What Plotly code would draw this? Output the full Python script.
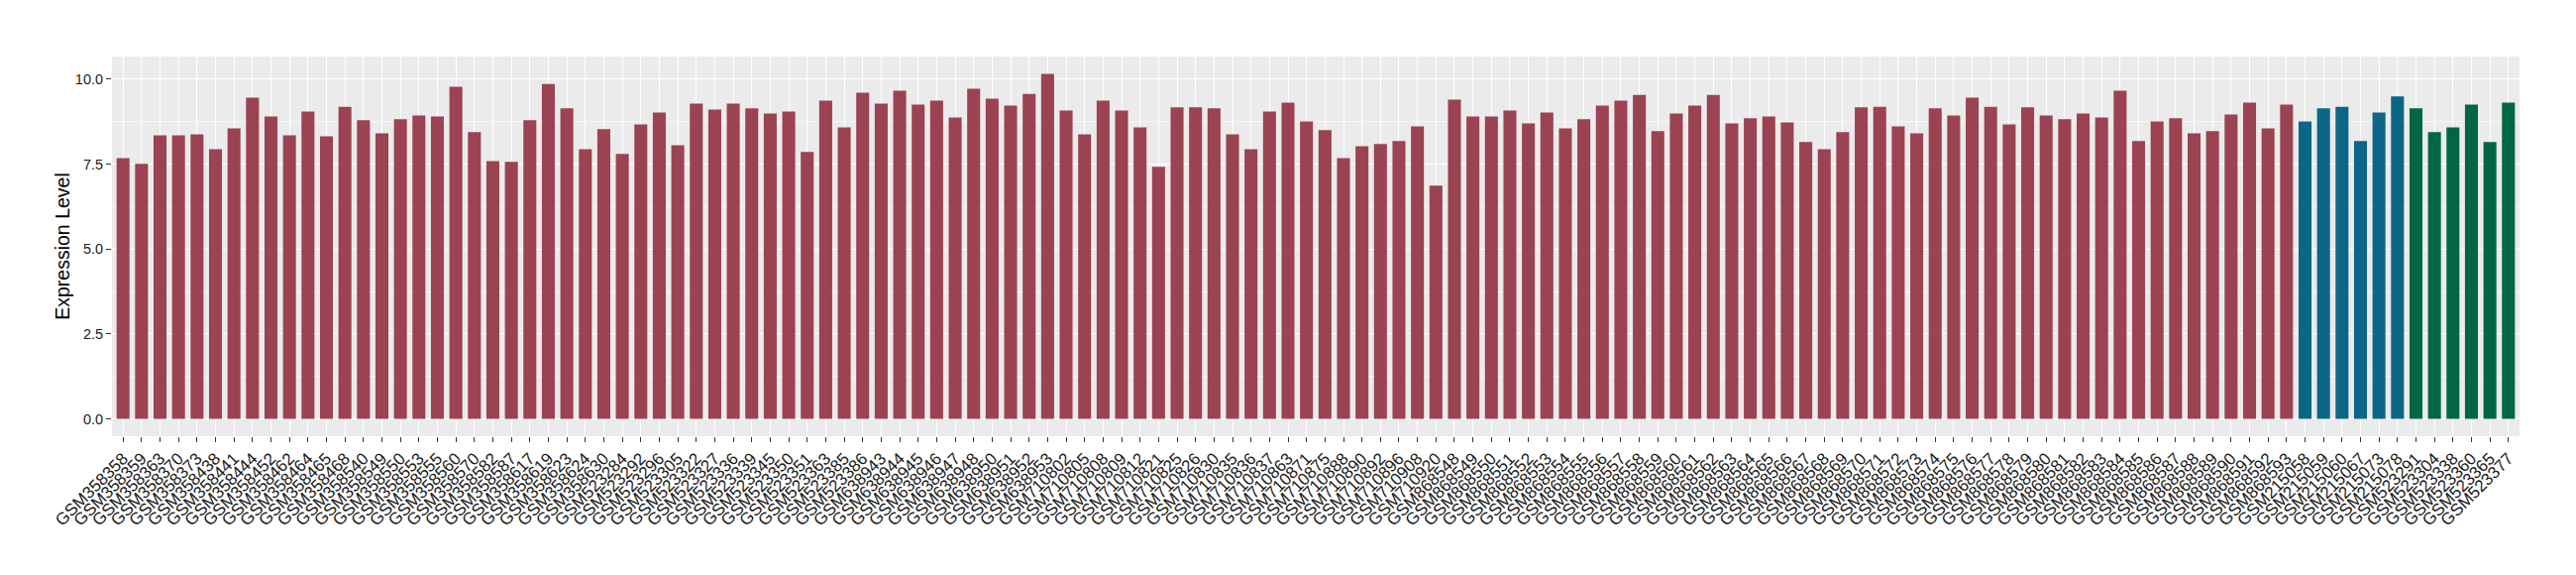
import plotly.graph_objects as go

# sample ids and expression values, by group (order as plotted)
red_samples = [
    "GSM358358", "GSM358359", "GSM358363", "GSM358370", "GSM358373", "GSM358438",
    "GSM358441", "GSM358444", "GSM358452", "GSM358462", "GSM358464", "GSM358465",
    "GSM358468", "GSM358540", "GSM358549", "GSM358550", "GSM358553", "GSM358555",
    "GSM358560", "GSM358570", "GSM358582", "GSM358587", "GSM358617", "GSM358619",
    "GSM358623", "GSM358624", "GSM358630", "GSM523284", "GSM523292", "GSM523296",
    "GSM523305", "GSM523322", "GSM523327", "GSM523336", "GSM523339", "GSM523345",
    "GSM523350", "GSM523351", "GSM523363", "GSM523385", "GSM523386", "GSM638943",
    "GSM638944", "GSM638945", "GSM638946", "GSM638947", "GSM638948", "GSM638950",
    "GSM638951", "GSM638952", "GSM638953", "GSM710802", "GSM710805", "GSM710808",
    "GSM710809", "GSM710812", "GSM710821", "GSM710825", "GSM710826", "GSM710830",
    "GSM710835", "GSM710836", "GSM710837", "GSM710863", "GSM710871", "GSM710875",
    "GSM710888", "GSM710890", "GSM710892", "GSM710896", "GSM710908", "GSM710920",
    "GSM868548", "GSM868549", "GSM868550", "GSM868551", "GSM868552", "GSM868553",
    "GSM868554", "GSM868555", "GSM868556", "GSM868557", "GSM868558", "GSM868559",
    "GSM868560", "GSM868561", "GSM868562", "GSM868563", "GSM868564", "GSM868565",
    "GSM868566", "GSM868567", "GSM868568", "GSM868569", "GSM868570", "GSM868571",
    "GSM868572", "GSM868573", "GSM868574", "GSM868575", "GSM868576", "GSM868577",
    "GSM868578", "GSM868579", "GSM868580", "GSM868581", "GSM868582", "GSM868583",
    "GSM868584", "GSM868585", "GSM868586", "GSM868587", "GSM868588", "GSM868589",
    "GSM868590", "GSM868591", "GSM868592", "GSM868593",
]
red_values = [
    7.68, 7.51, 8.35, 8.35, 8.38, 7.94, 8.55, 9.46, 8.90, 8.35, 9.05, 8.32,
    9.19, 8.79, 8.41, 8.82, 8.93, 8.90, 9.78, 8.44, 7.59, 7.57, 8.79, 9.86,
    9.14, 7.94, 8.53, 7.80, 8.67, 9.02, 8.06, 9.28, 9.11, 9.28, 9.14, 8.99,
    9.05, 7.86, 9.37, 8.58, 9.60, 9.28, 9.66, 9.25, 9.37, 8.87, 9.72, 9.43,
    9.22, 9.57, 10.16, 9.08, 8.38, 9.37, 9.08, 8.58, 7.42, 9.17, 9.17, 9.14,
    8.38, 7.94, 9.05, 9.31, 8.76, 8.50, 7.68, 8.03, 8.09, 8.18, 8.61, 6.87,
    9.40, 8.90, 8.90, 9.08, 8.70, 9.02, 8.55, 8.82, 9.22, 9.37, 9.54, 8.47,
    8.99, 9.22, 9.54, 8.70, 8.85, 8.90, 8.73, 8.15, 7.94, 8.44, 9.17, 9.19,
    8.61, 8.41, 9.14, 8.93, 9.46, 9.19, 8.67, 9.17, 8.93, 8.82, 8.99, 8.87,
    9.66, 8.18, 8.76, 8.85, 8.41, 8.47, 8.96, 9.31, 8.55, 9.25,
]

blue_samples = ["GSM215058", "GSM215059", "GSM215060", "GSM215067", "GSM215073", "GSM215078"]
blue_values = [8.76, 9.14, 9.19, 8.18, 9.02, 9.49]

green_samples = ["GSM523291", "GSM523304", "GSM523338", "GSM523360", "GSM523365", "GSM523377"]
green_values = [9.14, 8.44, 8.58, 9.25, 8.15, 9.31]

all_samples = red_samples + blue_samples + green_samples

fig = go.Figure()
for xs, ys, col in [
    (red_samples, red_values, "#9B4352"),
    (blue_samples, blue_values, "#0B6687"),
    (green_samples, green_values, "#006644"),
]:
    fig.add_trace(go.Bar(x=xs, y=ys, marker_color=col, marker_line_width=0, showlegend=False))

font_family = "Liberation Sans, Arial, Helvetica, sans-serif"

fig.update_layout(
    width=2600,
    height=580,
    barmode="overlay",
    bargap=0.3,
    paper_bgcolor="white",
    plot_bgcolor="#EBEBEB",
    margin=dict(l=113, r=57, t=57, b=140, autoexpand=False),
    font=dict(family=font_family, color="#1A1A1A"),
    xaxis=dict(
        type="category",
        categoryorder="array",
        categoryarray=all_samples,
        range=[-0.6, len(all_samples) - 0.4],
        tickmode="linear",
        tick0=0,
        dtick=1,
        tickangle=-45,
        tickfont=dict(size=17, color="#1A1A1A"),
        ticks="outside",
        ticklen=5,
        tickcolor="#333333",
        showgrid=True,
        gridcolor="white",
        gridwidth=1.4,
        zeroline=False,
        showline=False,
    ),
    yaxis=dict(
        range=[-0.508, 10.668],
        tick0=0,
        dtick=2.5,
        tickformat=".1f",
        tickfont=dict(size=14.5, color="#1A1A1A"),
        ticks="outside",
        ticklen=5,
        tickcolor="#333333",
        showgrid=True,
        gridcolor="white",
        gridwidth=1.4,
        minor=dict(dtick=1.25, showgrid=True, gridcolor="#F7F7F7", gridwidth=0.7),
        zeroline=False,
        showline=False,
        title=dict(text="Expression Level", font=dict(size=19.5, color="black"), standoff=0),
    ),
)

# drop the default page margin so the figure sits at the window's top-left corner
fig.write_html(
    "out.html",
    config={"displayModeBar": False},
    post_script="document.body.style.margin='0';",
)
